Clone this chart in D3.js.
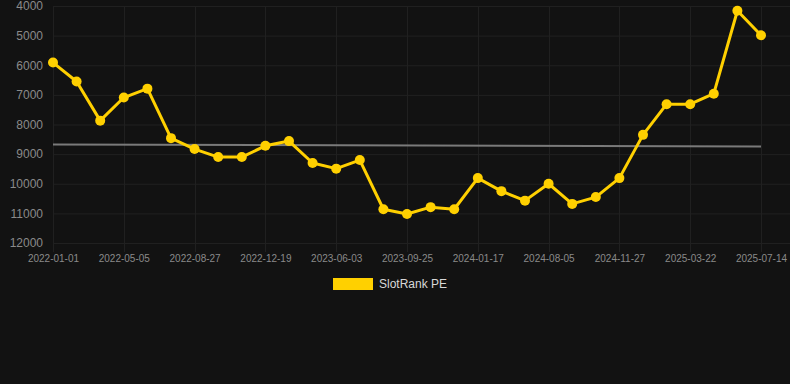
<!DOCTYPE html>
<html><head><meta charset="utf-8">
<script src="https://cdn.jsdelivr.net/npm/d3@7"></script>
<style>
html,body{margin:0;padding:0;background:#121212;}
svg{display:block;}
</style></head>
<body>
<svg id="c" width="790" height="384"></svg>
<script>
const dates = ["2022-01-01","2022-02-11","2022-03-25","2022-05-05","2022-06-12","2022-07-20","2022-08-27","2022-10-04","2022-11-11","2022-12-19","2023-02-13","2023-04-08","2023-06-03","2023-07-11","2023-08-18","2023-09-25","2023-11-02","2023-12-10","2024-01-17","2024-03-25","2024-05-30","2024-08-05","2024-09-12","2024-10-20","2024-11-27","2025-01-04","2025-02-12","2025-03-22","2025-04-30","2025-06-06","2025-07-14"];
const rankValues = [5910,6550,7870,7090,6790,8460,8830,9100,9100,8720,8560,9300,9490,9200,10860,11020,10790,10860,9810,10250,10570,10000,10680,10450,9810,8350,7315,7315,6960,4160,4990];
const trendValues = [8675,8745];
const yTicks = [4000,5000,6000,7000,8000,9000,10000,11000,12000];
const seriesName = "SlotRank PE";

const svg = d3.select("#c");
const x = d3.scalePoint().domain(dates).range([53,761]);
const y = d3.scaleLinear().domain([4000,12000]).range([6,243]);
const gridColor = "#202020";
const textColor = "#8a8a8a";
const gold = "#FFD000";

// horizontal grid
svg.append("g").selectAll("line").data(yTicks).join("line")
  .attr("x1",53).attr("x2",790)
  .attr("y1",d=>y(d)+0.5).attr("y2",d=>y(d)+0.5)
  .attr("stroke",gridColor).attr("stroke-width",1);

const shown = dates.filter((d,i)=>i%3===0);
// vertical grid
svg.append("g").selectAll("line").data(shown).join("line")
  .attr("x1",d=>Math.round(x(d))+0.5).attr("x2",d=>Math.round(x(d))+0.5)
  .attr("y1",6).attr("y2",252)
  .attr("stroke",gridColor).attr("stroke-width",1);

// y axis labels
const yAxis = d3.axisLeft(y).tickValues(yTicks).tickSize(0).tickPadding(10).tickFormat(d3.format("d"));
const gy = svg.append("g").attr("transform","translate(53,0)").call(yAxis);
gy.select(".domain").remove();
gy.selectAll("text").attr("fill",textColor).style("font-family","Arial, 'Liberation Sans', sans-serif").style("font-size","12px");

// x axis labels
const xAxis = d3.axisBottom(x).tickValues(shown).tickSize(0).tickPadding(10);
const gx = svg.append("g").attr("transform","translate(0,245)").call(xAxis);
gx.select(".domain").remove();
gx.selectAll("text").attr("fill",textColor).style("font-family","Arial, 'Liberation Sans', sans-serif").style("font-size","10px");

// trend line
svg.append("line")
  .attr("x1",x(dates[0])).attr("x2",x(dates[dates.length-1]))
  .attr("y1",y(trendValues[0])).attr("y2",y(trendValues[1]))
  .attr("stroke","#7a7a7a").attr("stroke-width",2);

// series line
const line = d3.line().x((d,i)=>x(dates[i])).y(d=>y(d));
svg.append("path").datum(rankValues).attr("d",line)
  .attr("fill","none").attr("stroke",gold).attr("stroke-width",3).attr("stroke-linejoin","round");
svg.append("g").selectAll("circle").data(rankValues).join("circle")
  .attr("cx",(d,i)=>x(dates[i])).attr("cy",d=>y(d)).attr("r",5).attr("fill",gold);

// legend
const lg = svg.append("g");
lg.append("rect").attr("x",333).attr("y",278).attr("width",40).attr("height",12).attr("fill",gold);
lg.append("text").attr("x",379).attr("y",288).text(seriesName)
  .attr("fill","#d8d8d8").style("font-family","Arial, 'Liberation Sans', sans-serif").style("font-size","12px");
</script>
</body></html>
